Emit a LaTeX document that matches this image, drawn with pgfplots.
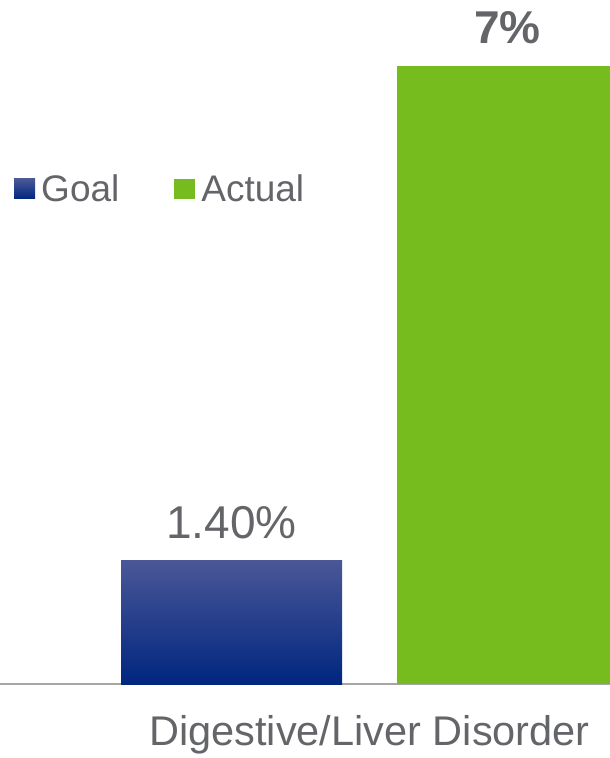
\documentclass[border=0pt]{standalone}
\usepackage{pgfplots}
\pgfplotsset{compat=1.18}
\usepackage{fontspec}
\setmainfont{Liberation Sans}
\definecolor{txt}{HTML}{646569}
\definecolor{goaltop}{HTML}{4A5797}
\definecolor{goalmid}{HTML}{042B86}
\definecolor{goalbot}{HTML}{00267F}
\definecolor{actual}{HTML}{77BC1F}
\definecolor{basec}{HTML}{A6A6A6}
\begin{document}
\begin{tikzpicture}
\begin{axis}[
  scale only axis, width=610pt, height=684pt,
  xmin=-369.5, xmax=240.5, ymin=0, ymax=7.747,
  ybar, bar width=221,
  axis x line*=bottom, axis y line=none,
  x axis line style={draw=basec, line width=1.5pt, -},
  xtick={0}, xticklabels={Digestive/Liver Disorder},
  major tick length=0pt,
  xticklabel style={anchor=base, yshift=-61pt, font=\fontsize{41.5}{49}\selectfont, text=txt},
  nodes near coords, point meta=explicit symbolic,
  every node near coord/.append style={text=txt, anchor=base, yshift=22pt, font=\fontsize{46}{55}\selectfont},
  legend image code/.code={\fill[#1] (0pt,-10pt) rectangle (21pt,10pt); \path (25pt,0pt);},
  legend style={at={(axis description cs:0.023,0.7237)}, anchor=west, draw=none, fill=none,
    font=\fontsize{37}{44}\selectfont, text=txt, legend columns=2, inner sep=0pt,
    /tikz/every even column/.append style={column sep=53pt}},
]
\addplot[draw=none, bar shift=-138, top color=goaltop, middle color=goalmid, bottom color=goalbot]
  coordinates {(0,1.4) [1.40\%]};
\addlegendentry{Goal}
\addplot[draw=none, bar shift=138, fill=actual]
  coordinates {(0,7) [\textbf{7\%}]};
\addlegendentry{Actual}
\end{axis}
\pgfresetboundingbox
\path (0,-74pt) rectangle (610pt,684pt);
\end{tikzpicture}
\end{document}
